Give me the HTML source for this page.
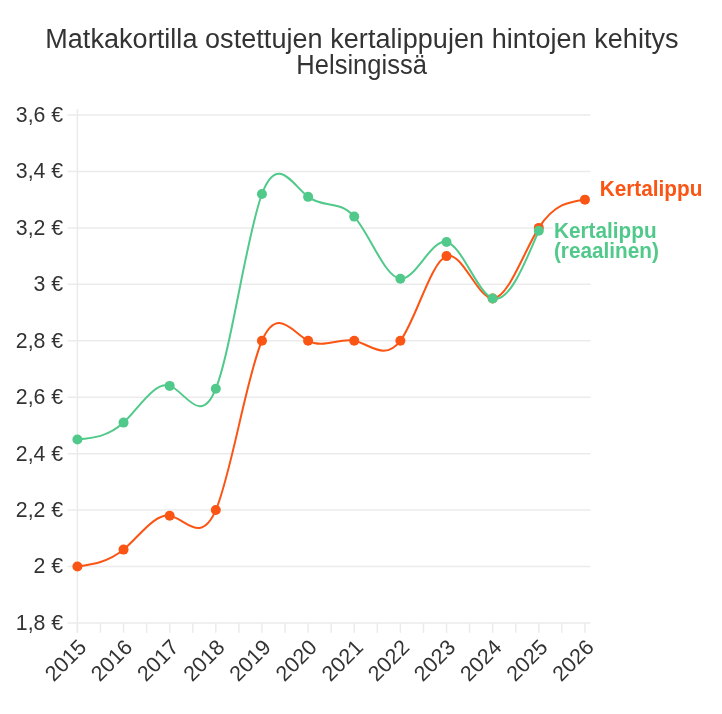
<!DOCTYPE html>
<html><head><meta charset="utf-8"><style>
html,body{margin:0;padding:0;background:#fff;width:722px;height:714px;overflow:hidden}
svg{display:block;will-change:transform}
text{font-family:"Liberation Sans",sans-serif}
.ax{font-size:21.5px;fill:#333333}
.ay{font-size:21.3px;fill:#333333}
.tt{font-size:27px;fill:#333333}
.lb{font-size:21.8px;font-weight:bold;stroke:#fff;stroke-width:4px;paint-order:stroke;stroke-linejoin:round}
</style></head><body>
<svg width="722" height="714" viewBox="0 0 722 714">
<line x1="67.5" y1="115.00" x2="590.5" y2="115.00" stroke="#ebebeb" stroke-width="1.5"/>
<text transform="translate(63.2,121.9) scale(1,1)" text-anchor="end" class="ay">3,6 €</text>
<line x1="67.5" y1="171.44" x2="590.5" y2="171.44" stroke="#ebebeb" stroke-width="1.5"/>
<text transform="translate(63.2,178.3) scale(1,1)" text-anchor="end" class="ay">3,4 €</text>
<line x1="67.5" y1="227.88" x2="590.5" y2="227.88" stroke="#ebebeb" stroke-width="1.5"/>
<text transform="translate(63.2,234.8) scale(1,1)" text-anchor="end" class="ay">3,2 €</text>
<line x1="67.5" y1="284.32" x2="590.5" y2="284.32" stroke="#ebebeb" stroke-width="1.5"/>
<text transform="translate(63.2,291.2) scale(1,1)" text-anchor="end" class="ay">3 €</text>
<line x1="67.5" y1="340.76" x2="590.5" y2="340.76" stroke="#ebebeb" stroke-width="1.5"/>
<text transform="translate(63.2,347.7) scale(1,1)" text-anchor="end" class="ay">2,8 €</text>
<line x1="67.5" y1="397.20" x2="590.5" y2="397.20" stroke="#ebebeb" stroke-width="1.5"/>
<text transform="translate(63.2,404.1) scale(1,1)" text-anchor="end" class="ay">2,6 €</text>
<line x1="67.5" y1="453.64" x2="590.5" y2="453.64" stroke="#ebebeb" stroke-width="1.5"/>
<text transform="translate(63.2,460.5) scale(1,1)" text-anchor="end" class="ay">2,4 €</text>
<line x1="67.5" y1="510.08" x2="590.5" y2="510.08" stroke="#ebebeb" stroke-width="1.5"/>
<text transform="translate(63.2,517.0) scale(1,1)" text-anchor="end" class="ay">2,2 €</text>
<line x1="67.5" y1="566.52" x2="590.5" y2="566.52" stroke="#ebebeb" stroke-width="1.5"/>
<text transform="translate(63.2,573.4) scale(1,1)" text-anchor="end" class="ay">2 €</text>
<line x1="67.5" y1="622.96" x2="590.5" y2="622.96" stroke="#ebebeb" stroke-width="1.5"/>
<text transform="translate(63.2,629.9) scale(1,1)" text-anchor="end" class="ay">1,8 €</text>
<line x1="77.4" y1="109" x2="77.4" y2="632.8" stroke="#ebebeb" stroke-width="1.5"/>
<line x1="77.40" y1="623" x2="77.40" y2="632.8" stroke="#ebebeb" stroke-width="1.5"/>
<line x1="100.47" y1="623" x2="100.47" y2="632.8" stroke="#ebebeb" stroke-width="1.5"/>
<line x1="123.54" y1="623" x2="123.54" y2="632.8" stroke="#ebebeb" stroke-width="1.5"/>
<line x1="146.61" y1="623" x2="146.61" y2="632.8" stroke="#ebebeb" stroke-width="1.5"/>
<line x1="169.68" y1="623" x2="169.68" y2="632.8" stroke="#ebebeb" stroke-width="1.5"/>
<line x1="192.75" y1="623" x2="192.75" y2="632.8" stroke="#ebebeb" stroke-width="1.5"/>
<line x1="215.82" y1="623" x2="215.82" y2="632.8" stroke="#ebebeb" stroke-width="1.5"/>
<line x1="238.89" y1="623" x2="238.89" y2="632.8" stroke="#ebebeb" stroke-width="1.5"/>
<line x1="261.96" y1="623" x2="261.96" y2="632.8" stroke="#ebebeb" stroke-width="1.5"/>
<line x1="285.03" y1="623" x2="285.03" y2="632.8" stroke="#ebebeb" stroke-width="1.5"/>
<line x1="308.10" y1="623" x2="308.10" y2="632.8" stroke="#ebebeb" stroke-width="1.5"/>
<line x1="331.17" y1="623" x2="331.17" y2="632.8" stroke="#ebebeb" stroke-width="1.5"/>
<line x1="354.24" y1="623" x2="354.24" y2="632.8" stroke="#ebebeb" stroke-width="1.5"/>
<line x1="377.31" y1="623" x2="377.31" y2="632.8" stroke="#ebebeb" stroke-width="1.5"/>
<line x1="400.38" y1="623" x2="400.38" y2="632.8" stroke="#ebebeb" stroke-width="1.5"/>
<line x1="423.45" y1="623" x2="423.45" y2="632.8" stroke="#ebebeb" stroke-width="1.5"/>
<line x1="446.52" y1="623" x2="446.52" y2="632.8" stroke="#ebebeb" stroke-width="1.5"/>
<line x1="469.59" y1="623" x2="469.59" y2="632.8" stroke="#ebebeb" stroke-width="1.5"/>
<line x1="492.66" y1="623" x2="492.66" y2="632.8" stroke="#ebebeb" stroke-width="1.5"/>
<line x1="515.73" y1="623" x2="515.73" y2="632.8" stroke="#ebebeb" stroke-width="1.5"/>
<line x1="538.80" y1="623" x2="538.80" y2="632.8" stroke="#ebebeb" stroke-width="1.5"/>
<line x1="561.87" y1="623" x2="561.87" y2="632.8" stroke="#ebebeb" stroke-width="1.5"/>
<line x1="584.94" y1="623" x2="584.94" y2="632.8" stroke="#ebebeb" stroke-width="1.5"/>
<text transform="translate(87.6,648.6) rotate(-45)" text-anchor="end" class="ax">2015</text>
<text transform="translate(133.7,648.6) rotate(-45)" text-anchor="end" class="ax">2016</text>
<text transform="translate(179.9,648.6) rotate(-45)" text-anchor="end" class="ax">2017</text>
<text transform="translate(226.0,648.6) rotate(-45)" text-anchor="end" class="ax">2018</text>
<text transform="translate(272.2,648.6) rotate(-45)" text-anchor="end" class="ax">2019</text>
<text transform="translate(318.3,648.6) rotate(-45)" text-anchor="end" class="ax">2020</text>
<text transform="translate(364.4,648.6) rotate(-45)" text-anchor="end" class="ax">2021</text>
<text transform="translate(410.6,648.6) rotate(-45)" text-anchor="end" class="ax">2022</text>
<text transform="translate(456.7,648.6) rotate(-45)" text-anchor="end" class="ax">2023</text>
<text transform="translate(502.9,648.6) rotate(-45)" text-anchor="end" class="ax">2024</text>
<text transform="translate(549.0,648.6) rotate(-45)" text-anchor="end" class="ax">2025</text>
<text transform="translate(595.1,648.6) rotate(-45)" text-anchor="end" class="ax">2026</text>
<rect x="553" y="219" width="108" height="44" fill="#fff"/>
<path d="M77.40,566.52C92.78,564.41,108.16,562.30,123.54,549.59C138.92,536.88,154.30,513.57,169.68,515.72C185.06,517.87,200.44,545.48,215.82,510.08C231.20,474.68,246.58,376.26,261.96,340.76C277.34,305.26,292.72,332.66,308.10,340.76C323.48,348.86,338.86,337.64,354.24,340.76C369.62,343.88,385.00,361.32,400.38,340.76C415.76,320.20,431.14,261.64,446.52,256.10C461.90,250.56,477.28,298.02,492.66,298.43C508.04,298.84,523.42,252.18,538.80,227.88C554.18,203.58,569.56,201.62,584.94,199.66" fill="none" stroke="#fa5514" stroke-width="2"/>
<circle cx="77.40" cy="566.52" r="5" fill="#fa5514"/>
<circle cx="123.54" cy="549.59" r="5" fill="#fa5514"/>
<circle cx="169.68" cy="515.72" r="5" fill="#fa5514"/>
<circle cx="215.82" cy="510.08" r="5" fill="#fa5514"/>
<circle cx="261.96" cy="340.76" r="5" fill="#fa5514"/>
<circle cx="308.10" cy="340.76" r="5" fill="#fa5514"/>
<circle cx="354.24" cy="340.76" r="5" fill="#fa5514"/>
<circle cx="400.38" cy="340.76" r="5" fill="#fa5514"/>
<circle cx="446.52" cy="256.10" r="5" fill="#fa5514"/>
<circle cx="492.66" cy="298.43" r="5" fill="#fa5514"/>
<circle cx="538.80" cy="227.88" r="5" fill="#fa5514"/>
<circle cx="584.94" cy="199.66" r="5" fill="#fa5514"/>
<path d="M77.40,439.53C92.78,438.20,108.16,436.88,123.54,422.60C138.92,408.32,154.30,381.09,169.68,385.91C185.06,390.74,200.44,427.63,215.82,388.73C231.20,349.84,246.58,235.17,261.96,194.02C277.34,152.86,292.72,185.22,308.10,196.84C323.48,208.46,338.86,199.34,354.24,216.59C369.62,233.84,385.00,277.45,400.38,278.68C415.76,279.90,431.14,238.74,446.52,241.99C461.90,245.24,477.28,292.91,492.66,298.43C508.04,303.95,523.42,267.33,538.80,230.70" fill="none" stroke="#51c98b" stroke-width="2"/>
<circle cx="77.40" cy="439.53" r="5" fill="#51c98b"/>
<circle cx="123.54" cy="422.60" r="5" fill="#51c98b"/>
<circle cx="169.68" cy="385.91" r="5" fill="#51c98b"/>
<circle cx="215.82" cy="388.73" r="5" fill="#51c98b"/>
<circle cx="261.96" cy="194.02" r="5" fill="#51c98b"/>
<circle cx="308.10" cy="196.84" r="5" fill="#51c98b"/>
<circle cx="354.24" cy="216.59" r="5" fill="#51c98b"/>
<circle cx="400.38" cy="278.68" r="5" fill="#51c98b"/>
<circle cx="446.52" cy="241.99" r="5" fill="#51c98b"/>
<circle cx="492.66" cy="298.43" r="5" fill="#51c98b"/>
<circle cx="538.80" cy="230.70" r="5" fill="#51c98b"/>
<text transform="translate(599.7,195.8) scale(0.953,1)" class="lb" fill="#fa5514">Kertalippu</text>
<text transform="translate(553.9,237.8) scale(0.953,1)" class="lb" fill="#51c98b">Kertalippu</text>
<text transform="translate(553.9,258) scale(0.953,1)" class="lb" fill="#51c98b">(reaalinen)</text>
<text x="361.9" y="48" text-anchor="middle" class="tt" textLength="633.4" lengthAdjust="spacing">Matkakortilla ostettujen kertalippujen hintojen kehitys</text>
<text x="361.6" y="74" text-anchor="middle" class="tt" textLength="130.5" lengthAdjust="spacingAndGlyphs">Helsingissä</text>
</svg>
</body></html>
